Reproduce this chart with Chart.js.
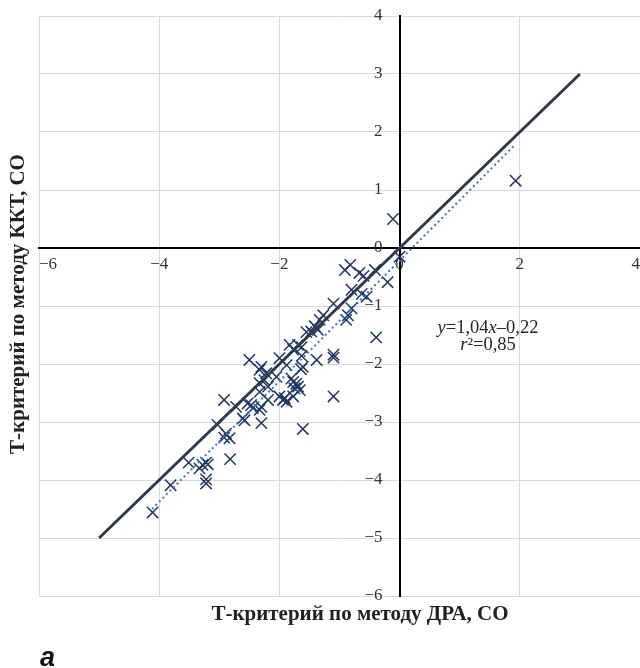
<!DOCTYPE html>
<html>
<head>
<meta charset="utf-8">
<script src="https://cdn.jsdelivr.net/npm/chart.js@4"></script>
<style>
  body { margin: 0; background: #fff; }
  canvas { display: block; }
</style>
</head>
<body>
<canvas id="chartT" width="640" height="668"></canvas>
<script>
// T-criterion values, DRA method (x) vs KKT method (y)
const xValues = [1.93, -0.11, 0.0, -0.82, -0.91, -0.67, -0.6, -0.41, -0.2, -0.8,
    -0.63, -0.55, -1.1, -0.8, -0.86, -0.89, -1.27, -1.33, -1.41, -1.36,
    -1.47, -1.55, -0.39, -1.83, -1.69, -1.63, -1.77, -1.1, -1.1, -1.63,
    -1.38, -2.0, -1.88, -2.5, -2.3, -2.33, -1.61, -1.64, -2.22, -2.05,
    -1.8, -1.77, -1.72, -1.69, -1.75, -1.66, -2.33, -2.25, -2.19, -2.33,
    -2.19, -2.0, -1.94, -1.88, -1.91, -1.77, -1.1, -2.92, -2.72, -2.53,
    -2.47, -2.44, -2.33, -2.3, -2.61, -2.58, -3.03, -2.3, -1.61, -2.89,
    -2.83, -2.92, -2.82, -3.51, -3.33, -3.28, -3.22, -3.19, -3.22, -3.22,
    -3.81, -4.11];
const yValues = [1.16, 0.5, -0.15, -0.29, -0.38, -0.43, -0.48, -0.38, -0.59, -0.72,
    -0.79, -0.84, -0.96, -1.04, -1.16, -1.24, -1.16, -1.24, -1.35, -1.41,
    -1.44, -1.45, -1.54, -1.67, -1.67, -1.71, -1.75, -1.84, -1.89, -1.86,
    -1.93, -1.9, -2.02, -1.93, -2.05, -2.1, -2.05, -2.09, -2.16, -2.22,
    -2.25, -2.31, -2.34, -2.39, -2.42, -2.45, -2.33, -2.28, -2.39, -2.48,
    -2.62, -2.56, -2.62, -2.65, -2.59, -2.56, -2.56, -2.62, -2.74, -2.68,
    -2.71, -2.76, -2.79, -2.74, -2.94, -2.97, -3.05, -3.02, -3.12, -3.2,
    -3.28, -3.27, -3.64, -3.7, -3.8, -3.74, -3.7, -3.73, -3.99, -4.06,
    -4.09, -4.56];

// line of equality y = x
const equalX = [-5, 3];
const equalY = [-5, 3];

// linear trend y = 1,04x - 0,22 (end points)
const trendX = [-4.12, 1.92];
const trendY = [-4.5, 1.78];

const toPoints = (xs, ys) => xs.map((x, i) => ({ x: x, y: ys[i] }));
const fmtTick = v => (v < 0 ? '\u2212' + Math.abs(v) : String(v));

const tickFont = { family: 'Liberation Serif', size: 17 };

// titles, equation and panel letter
const textPlugin = {
    id: 'chartTexts',
    afterDraw(chart) {
        const ctx = chart.ctx;
        ctx.save();
        ctx.fillStyle = '#222';
        ctx.textBaseline = 'middle';
        ctx.textAlign = 'center';
        ctx.font = "bold 21px 'Liberation Serif'";
        ctx.fillText('Т-критерий по методу ДРА, СО', 360, 615);

        ctx.save();
        ctx.translate(19, 304);
        ctx.rotate(-Math.PI / 2);
        ctx.fillText('Т-критерий по методу ККТ, СО', 0, 0);
        ctx.restore();

        // equation, italic variables
        const drawRich = (parts, cx, baseY) => {
            ctx.textAlign = 'left';
            ctx.textBaseline = 'alphabetic';
            let total = 0;
            parts.forEach(p => {
                ctx.font = (p[1] ? 'italic ' : '') + "18.5px 'Liberation Serif'";
                total += ctx.measureText(p[0]).width;
            });
            let x = cx - total / 2;
            parts.forEach(p => {
                ctx.font = (p[1] ? 'italic ' : '') + "18.5px 'Liberation Serif'";
                ctx.fillText(p[0], x, baseY);
                x += ctx.measureText(p[0]).width;
            });
        };
        ctx.fillStyle = '#262626';
        drawRich([['y', true], ['=1,04', false], ['x', true], ['\u20130,22', false]], 488, 333);
        drawRich([['r', true], ['²=0,85', false]], 488, 350);

        ctx.fillStyle = '#111';
        ctx.textAlign = 'left';
        ctx.font = "bold italic 27px 'Liberation Sans Narrow', 'Liberation Sans'";
        ctx.fillText('а', 40, 666);
        ctx.restore();
    }
};

new Chart(document.getElementById('chartT'), {
    type: 'scatter',
    data: {
        datasets: [{
            label: 'Т-критерий',
            data: toPoints(xValues, yValues),
            pointStyle: 'crossRot',
            pointRadius: 8,
            pointBorderWidth: 1.5,
            borderColor: '#1f3864',
            backgroundColor: '#1f3864',
            order: 3
        }, {
            label: 'Тренд',
            data: toPoints(trendX, trendY),
            showLine: true,
            pointRadius: 0,
            borderColor: '#4472c4',
            borderWidth: 2,
            borderDash: [2, 3],
            order: 2
        }, {
            label: 'y = x',
            data: toPoints(equalX, equalY),
            showLine: true,
            pointRadius: 0,
            borderColor: '#2e3a4b',
            borderWidth: 3,
            order: 1
        }]
    },
    options: {
        responsive: false,
        animation: false,
        layout: {
            autoPadding: false,
            padding: { left: 39, top: 16, right: 0, bottom: 72 }
        },
        plugins: {
            legend: { display: false },
            tooltip: { enabled: false }
        },
        scales: {
            x: {
                type: 'linear',
                position: { y: 0 },
                min: -6,
                max: 4,
                afterFit: s => { s.height = 0; s.paddingLeft = 0; s.paddingRight = 0; },
                ticks: { stepSize: 2, align: 'inner', color: '#333', font: tickFont, padding: 6, callback: fmtTick },
                grid: { color: '#d9d9d9', drawTicks: false },
                border: { color: '#000', width: 2 }
            },
            y: {
                type: 'linear',
                position: { x: 0 },
                min: -6,
                max: 4,
                afterFit: s => { s.width = 0; s.paddingTop = 0; s.paddingBottom = 0; },
                // trailing spaces keep the labels off the axis line
                ticks: { stepSize: 1, color: '#333', font: tickFont, callback: v => fmtTick(v) + '\u2002\u2002' },
                grid: { color: '#d9d9d9', drawTicks: false },
                border: { color: '#000', width: 2 }
            }
        }
    },
    plugins: [textPlugin]
});
</script>
</body>
</html>
